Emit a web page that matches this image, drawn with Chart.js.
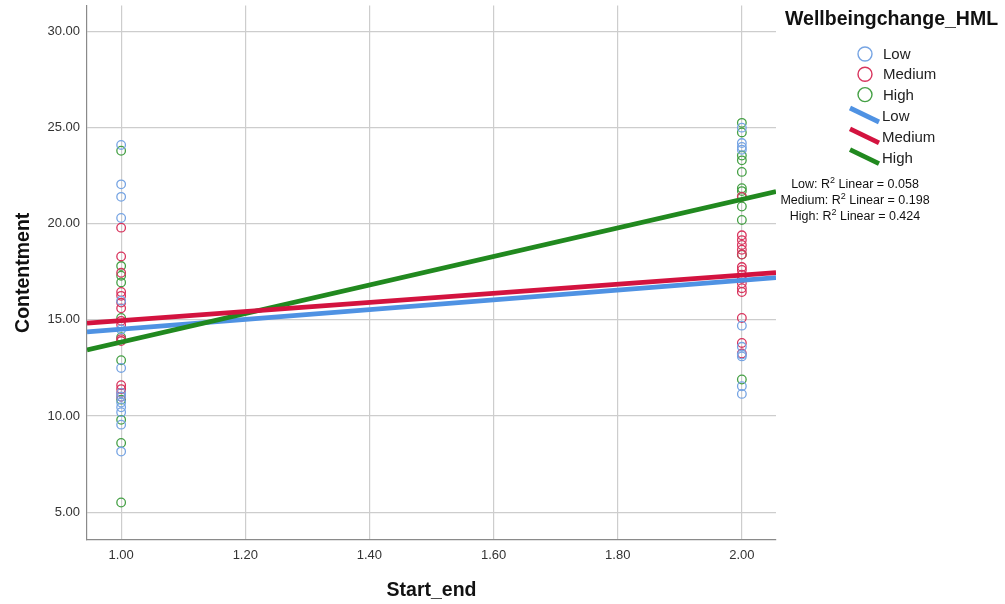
<!DOCTYPE html>
<html>
<head>
<meta charset="utf-8">
<script src="https://cdn.jsdelivr.net/npm/chart.js@4.4.1/dist/chart.umd.min.js"></script>
<style>
  html, body { margin: 0; padding: 0; background: #fff; }
  #wrap { width: 1005px; height: 604px; }
</style>
</head>
<body>
<div id="wrap"><canvas id="myChart" width="1005" height="604"></canvas></div>
<script>
// groups of Wellbeingchange_HML
var groups = ["Low", "Medium", "High"];
// Start_end values
var timePoints = [1, 2];

// Contentment scores (x = 1 and x = 2)
var lowStart = [24.1, 22.05, 21.4, 20.3, 16.0, 14.5, 12.5, 11.2, 11.0, 10.7, 10.45, 10.2, 9.55, 8.15];
var lowEnd = [25.0, 24.2, 24.0, 23.85, 14.7, 13.6, 13.2, 13.1, 11.55, 11.15];
var mediumStart = [19.8, 18.3, 17.45, 16.45, 16.25, 15.9, 15.6, 14.95, 14.75, 14.0, 13.9, 11.6, 11.4, 11.2, 11.0];
var mediumEnd = [21.4, 19.4, 19.15, 18.9, 18.65, 18.4, 17.75, 17.6, 17.35, 17.15, 16.9, 16.65, 16.45, 15.1, 13.8, 13.25];
var highStart = [23.8, 17.8, 17.3, 16.95, 15.1, 14.1, 12.9, 10.85, 9.8, 8.6, 5.5];
var highEnd = [25.25, 24.75, 23.55, 23.3, 22.7, 21.85, 21.7, 21.4, 20.9, 20.2, 18.4, 11.9];

// fit lines: value at x = 1 and x = 2
var fitStart = [14.52, 14.96, 13.85];
var fitEnd = [17.06, 17.33, 21.27];
var rSquared = ["0.058", "0.198", "0.424"];

// axis ticks
var xTicks = [1.0, 1.2, 1.4, 1.6, 1.8, 2.0];
var yTicks = [5, 10, 15, 20, 25, 30];
var xMin = 0.945, xMax = 2.055;
var yMin = 3.55, yMax = 31.35;

var pointColors = ["#76a4e3", "#d8345d", "#45a045"];
var lineColors = ["#4f92e3", "#d3133f", "#21891f"];
var FONT = "'Liberation Sans', Arial, sans-serif";

var startSets = [lowStart, mediumStart, highStart];
var endSets = [lowEnd, mediumEnd, highEnd];

function toPoints(starts, ends) {
  var pts = [];
  starts.forEach(function (v) { pts.push({ x: timePoints[0], y: v }); });
  ends.forEach(function (v) { pts.push({ x: timePoints[1], y: v }); });
  return pts;
}

function fitLine(i) {
  var a = fitStart[i], b = fitEnd[i];
  var at = function (x) { return a + (b - a) * (x - timePoints[0]) / (timePoints[1] - timePoints[0]); };
  return [{ x: xMin, y: at(xMin) }, { x: xMax, y: at(xMax) }];
}

var datasets = [];
// lines on top (lower order is drawn last)
var lineOrder = [2, 0, 1];
groups.forEach(function (g, i) {
  datasets.push({
    label: g,
    data: fitLine(i),
    showLine: true,
    borderColor: lineColors[i],
    borderWidth: 4.8,
    pointRadius: 0,
    fill: false,
    order: lineOrder[i]
  });
});
groups.forEach(function (g, i) {
  datasets.push({
    label: g,
    data: toPoints(startSets[i], endSets[i]),
    showLine: false,
    pointStyle: "circle",
    pointRadius: 4.3,
    pointBorderWidth: 1.3,
    pointBorderColor: pointColors[i],
    pointBackgroundColor: "rgba(0,0,0,0)",
    order: 5 + i
  });
});

// legend + R2 labels drawn on the right side
var sideLegend = {
  id: "sideLegend",
  afterDraw: function (chart) {
    var ctx = chart.ctx;
    ctx.save();
    ctx.fillStyle = "#111";
    ctx.textBaseline = "alphabetic";
    ctx.textAlign = "left";
    ctx.font = "bold 19.5px " + FONT;
    ctx.fillText("Wellbeingchange_HML", 785, 25);

    ctx.font = "15px " + FONT;
    ctx.textBaseline = "middle";
    groups.forEach(function (g, i) {
      var y = 54 + i * 20.3;
      ctx.beginPath();
      ctx.arc(865, y, 7, 0, Math.PI * 2);
      ctx.strokeStyle = pointColors[i];
      ctx.lineWidth = 1.4;
      ctx.stroke();
      ctx.fillStyle = "#222";
      ctx.fillText(g, 883, y + 1);
    });
    groups.forEach(function (g, i) {
      var y = 116 + i * 20.8;
      ctx.beginPath();
      ctx.moveTo(850, y - 8);
      ctx.lineTo(879, y + 6);
      ctx.strokeStyle = lineColors[i];
      ctx.lineWidth = 4.8;
      ctx.stroke();
      ctx.fillStyle = "#222";
      ctx.fillText(g, 882, y + 1);
    });

    // R2 lines
    ctx.textBaseline = "alphabetic";
    groups.forEach(function (g, i) {
      var y = 188 + i * 16.2;
      var a = g + ": R", b = "2", c = " Linear = " + rSquared[i];
      ctx.font = "12.5px " + FONT;
      var wa = ctx.measureText(a).width, wc = ctx.measureText(c).width;
      ctx.font = "9px " + FONT;
      var wb = ctx.measureText(b).width;
      var x = 855 - (wa + wb + wc) / 2;
      ctx.fillStyle = "#111";
      ctx.font = "12.5px " + FONT;
      ctx.fillText(a, x, y);
      ctx.font = "9px " + FONT;
      ctx.fillText(b, x + wa, y - 5);
      ctx.font = "12.5px " + FONT;
      ctx.fillText(c, x + wa + wb, y);
    });
    ctx.restore();
  }
};

var ctx = document.getElementById("myChart").getContext("2d");
var myChart = new Chart(ctx, {
  type: "scatter",
  data: { datasets: datasets },
  options: {
    responsive: false,
    devicePixelRatio: 1,
    animation: false,
    layout: { padding: { left: 0, right: 229, top: 5, bottom: 0 } },
    plugins: {
      legend: { display: false },
      tooltip: { enabled: false }
    },
    scales: {
      x: {
        type: "linear",
        min: xMin,
        max: xMax,
        afterBuildTicks: function (s) { s.ticks = xTicks.map(function (v) { return { value: v }; }); },
        afterFit: function (s) { s.height = 64; s.paddingLeft = 0; s.paddingRight = 0; },
        ticks: {
          autoSkip: false,
          maxRotation: 0,
          padding: 8,
          color: "#333",
          font: { family: FONT, size: 13 },
          callback: function (v) { return Number(v).toFixed(2); }
        },
        grid: { color: "#cdcdcd", lineWidth: 1.2, drawTicks: false },
        border: { color: "#8a8a8a", width: 1.2 },
        title: {
          display: true,
          text: "Start_end",
          color: "#111",
          font: { family: FONT, size: 19.5, weight: "bold" },
          padding: { top: 0, bottom: 2 }
        }
      },
      y: {
        type: "linear",
        min: yMin,
        max: yMax,
        afterBuildTicks: function (s) { s.ticks = yTicks.map(function (v) { return { value: v }; }); },
        afterFit: function (s) { s.width = 87; s.paddingTop = 0; s.paddingBottom = 0; },
        ticks: {
          padding: 7,
          color: "#333",
          font: { family: FONT, size: 13 },
          callback: function (v) { return Number(v).toFixed(2); }
        },
        grid: { color: "#cdcdcd", lineWidth: 1.2, drawTicks: false },
        border: { color: "#8a8a8a", width: 1.2 },
        title: {
          display: true,
          text: "Contentment",
          color: "#111",
          font: { family: FONT, size: 19.5, weight: "bold" },
          padding: { top: 12, bottom: 0 }
        }
      }
    }
  },
  plugins: [sideLegend]
});
</script>
</body>
</html>
